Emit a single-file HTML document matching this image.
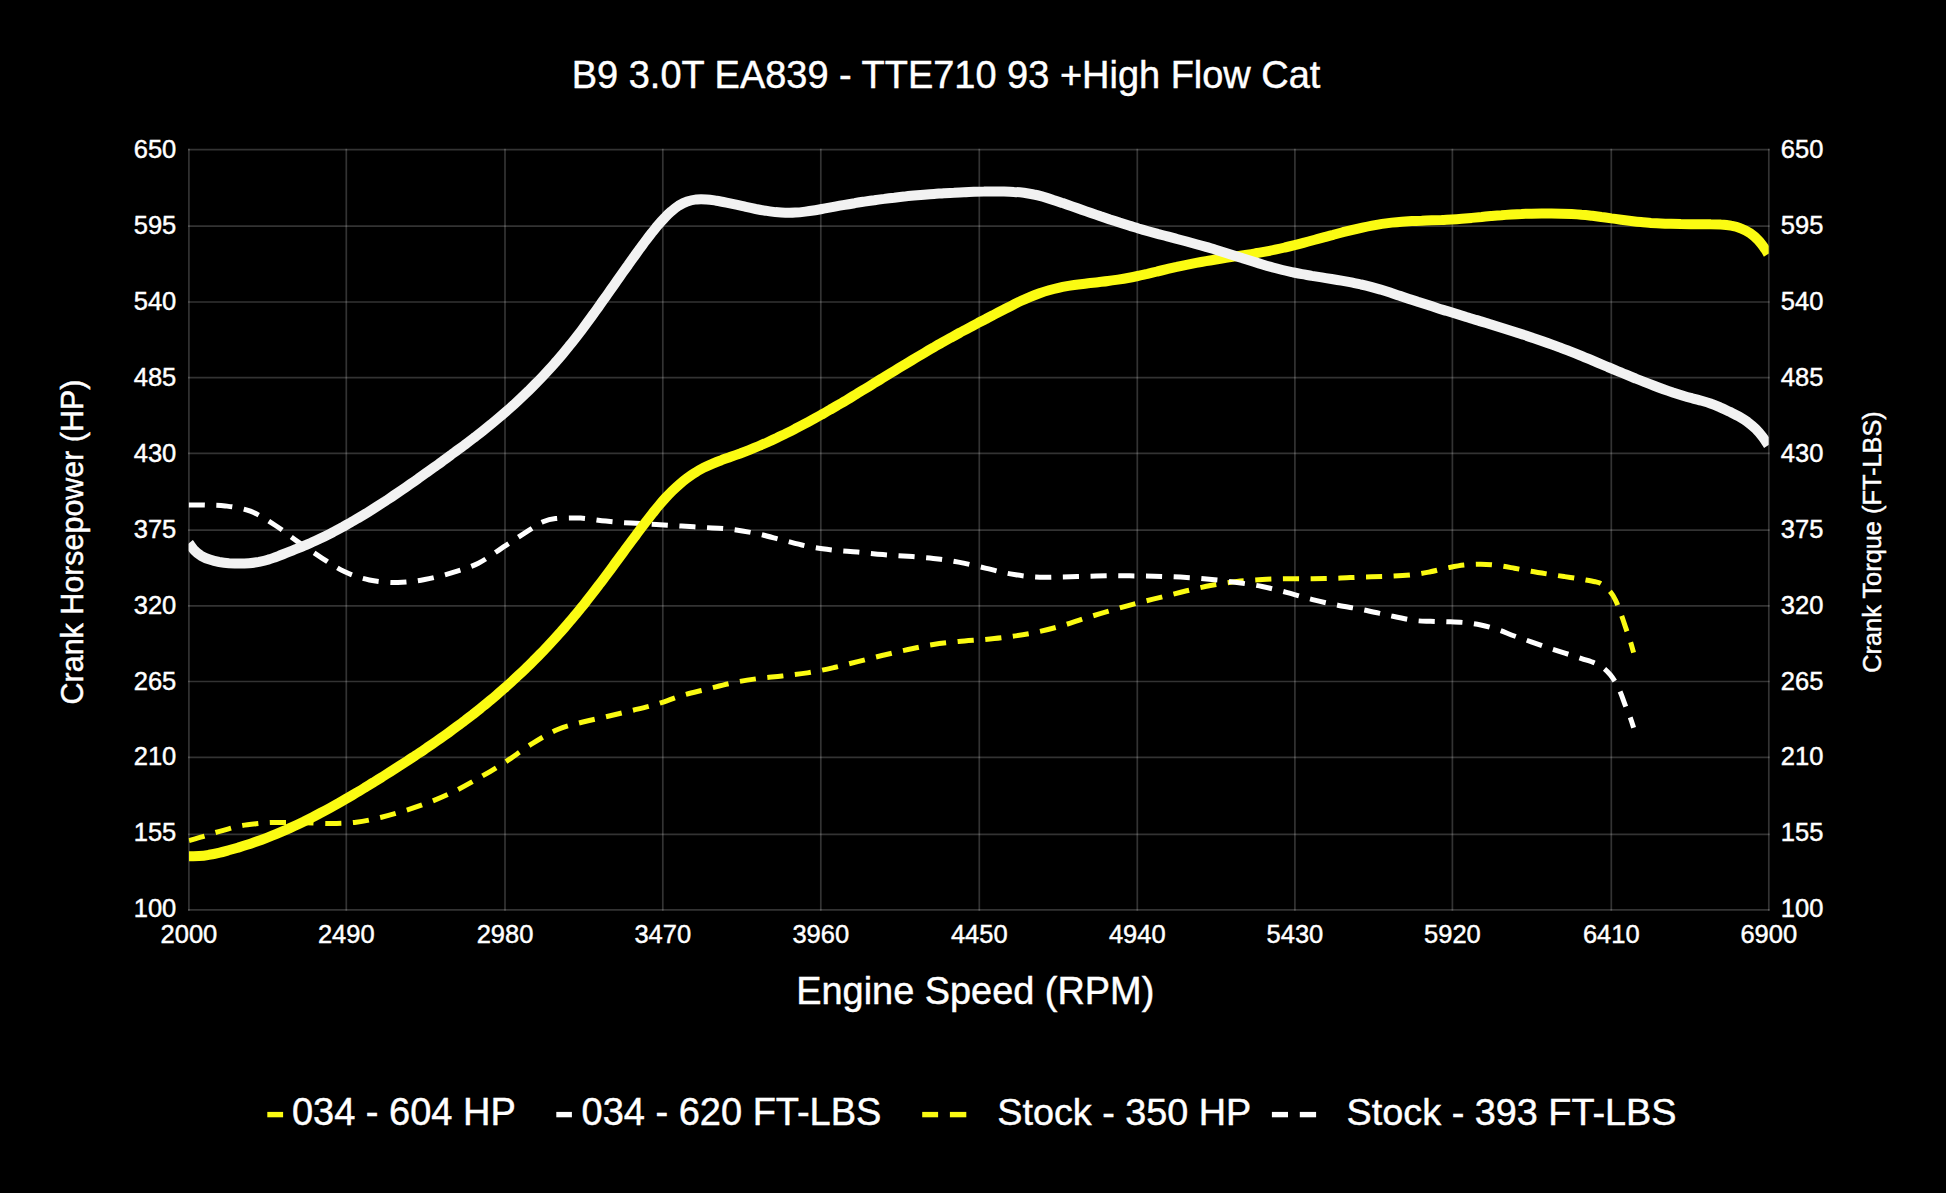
<!DOCTYPE html>
<html><head><meta charset="utf-8"><title>B9 3.0T EA839 - TTE710 93 +High Flow Cat</title>
<style>html,body{margin:0;padding:0;background:#000;}body{width:1946px;height:1193px;overflow:hidden;font-family:"Liberation Sans",Arial,sans-serif;}svg{display:block;}</style>
</head><body>
<svg width="1946" height="1193" viewBox="0 0 1946 1193">
<rect width="1946" height="1193" fill="#000"/>
<path d="M188.90,148.80V910.70M346.30,148.80V910.70M505.00,148.80V910.70M662.80,148.80V910.70M820.80,148.80V910.70M979.30,148.80V910.70M1137.30,148.80V910.70M1294.90,148.80V910.70M1452.40,148.80V910.70M1611.30,148.80V910.70M1768.80,148.80V910.70" stroke="#fff" stroke-opacity="0.2" stroke-width="1.7" fill="none"/>
<path d="M188.10,149.60H1769.60M188.10,226.10H1769.60M188.10,302.00H1769.60M188.10,377.60H1769.60M188.10,453.30H1769.60M188.10,530.20H1769.60M188.10,605.90H1769.60M188.10,681.50H1769.60M188.10,757.30H1769.60M188.10,834.30H1769.60M188.10,909.90H1769.60" stroke="#fff" stroke-opacity="0.2" stroke-width="1.7" fill="none"/>
<clipPath id="plotclip"><rect x="188.60" y="149.60" width="1580.10" height="760.30"/></clipPath>
<g clip-path="url(#plotclip)" fill="none">
<path d="M189.0,840.6C194.2,839.1 200.1,837.6 204.5,836.2C208.9,834.9 211.1,833.8 215.5,832.5C219.9,831.2 226.6,829.4 231.0,828.2C235.4,827.0 237.5,826.3 242.0,825.5C246.5,824.7 253.5,824.0 258.1,823.5C262.7,823.0 264.9,822.7 269.5,822.5C274.1,822.3 279.8,822.5 285.9,822.5C292.0,822.5 298.4,822.5 305.9,822.7C313.4,822.9 322.7,823.6 331.1,823.5C339.5,823.4 347.9,823.2 356.3,822.2C364.7,821.2 373.1,819.2 381.5,817.2C389.9,815.2 398.2,812.8 406.6,810.1C415.0,807.5 423.4,804.6 431.8,801.3C440.2,797.9 448.6,794.2 457.0,790.0C465.4,785.8 474.2,780.7 482.2,776.1C490.2,771.5 496.5,767.8 504.9,762.3C513.3,756.8 523.8,748.9 532.6,743.4C541.4,737.9 549.3,733.1 557.7,729.5C566.1,725.9 574.5,724.2 582.9,722.0C591.3,719.8 599.7,718.2 608.1,716.2C616.5,714.2 624.9,712.3 633.3,710.2C641.7,708.1 650.5,706.0 658.5,703.6C666.5,701.2 673.5,698.0 681.5,695.6C689.5,693.2 698.2,691.4 706.6,689.3C715.0,687.2 723.4,684.8 731.8,683.0C740.2,681.2 748.6,679.9 757.0,678.7C765.4,677.5 773.8,677.0 782.2,676.0C790.6,675.0 799.0,674.2 807.4,672.9C815.8,671.5 824.2,669.8 832.6,667.9C841.0,666.0 849.3,663.7 857.7,661.6C866.1,659.5 874.5,657.3 882.9,655.3C891.3,653.3 899.7,651.3 908.1,649.5C916.5,647.7 924.9,645.8 933.3,644.5C941.7,643.2 949.9,642.4 958.5,641.5C967.1,640.6 976.6,640.2 985.2,639.4C993.9,638.6 1002.0,637.8 1010.4,636.6C1018.8,635.4 1027.1,634.1 1035.5,632.4C1043.9,630.6 1052.3,628.5 1060.7,626.1C1069.1,623.7 1077.5,620.6 1085.9,618.0C1094.3,615.4 1102.7,612.8 1111.1,610.4C1119.5,608.0 1127.9,605.6 1136.3,603.4C1144.7,601.2 1153.1,599.2 1161.5,597.1C1169.9,595.0 1178.2,592.8 1186.6,590.8C1195.0,588.8 1203.4,586.8 1211.8,585.3C1220.2,583.8 1228.6,582.5 1237.0,581.5C1245.4,580.5 1253.8,580.0 1262.2,579.5C1270.6,579.0 1279.0,578.8 1287.4,578.7C1295.8,578.6 1304.2,578.8 1312.6,578.7C1321.0,578.6 1329.3,578.5 1337.7,578.2C1346.1,577.9 1354.5,577.3 1362.9,577.0C1371.3,576.7 1379.6,576.8 1388.1,576.4C1396.5,576.0 1406.5,575.4 1413.6,574.6C1420.6,573.8 1424.8,572.9 1430.4,571.8C1436.0,570.7 1441.6,569.0 1447.2,567.9C1452.8,566.8 1458.4,565.6 1464.0,565.0C1469.6,564.4 1475.2,564.1 1480.8,564.2C1486.4,564.3 1492.0,564.7 1497.6,565.4C1503.2,566.1 1508.8,567.2 1514.4,568.2C1520.0,569.2 1525.6,570.3 1531.2,571.3C1536.8,572.3 1542.4,573.2 1548.0,574.1C1553.6,575.0 1559.2,575.8 1564.8,576.6C1570.4,577.5 1576.5,578.4 1581.6,579.2C1586.6,580.1 1591.7,580.9 1595.1,581.7C1598.5,582.6 1599.5,582.6 1602.0,584.3C1604.5,586.0 1608.2,589.2 1610.4,591.9C1612.7,594.5 1614.0,597.1 1615.5,600.2C1617.0,603.3 1618.0,605.8 1619.7,610.3C1621.4,614.8 1623.7,621.8 1625.5,627.1C1627.3,632.4 1629.2,638.0 1630.6,642.2C1631.9,646.5 1632.6,649.1 1633.6,652.6" stroke="#fbfb12" stroke-width="5.0" stroke-dasharray="16.15 11.56" fill="none"/>
<path d="M188.7,504.9C194.1,504.9 198.9,504.8 205.0,505.0C211.1,505.2 217.7,504.9 225.3,505.9C232.9,506.9 242.0,507.9 250.4,511.2C258.8,514.5 267.7,520.5 275.5,525.5C283.3,530.5 289.8,536.1 297.3,541.4C304.9,546.7 313.0,552.3 320.8,557.3C328.6,562.3 336.2,567.8 344.3,571.6C352.4,575.4 360.5,578.2 369.4,580.0C378.3,581.8 388.7,582.6 397.9,582.5C407.1,582.4 415.8,581.1 424.7,579.5C433.6,577.9 442.6,575.6 451.5,572.9C460.4,570.2 469.4,567.7 478.4,563.2C487.3,558.7 496.5,551.4 505.2,545.8C513.9,540.2 524.1,533.4 530.4,529.4C536.7,525.4 538.8,523.6 543.0,521.8C547.2,520.0 549.2,519.2 555.5,518.6C561.8,518.0 572.3,517.7 580.7,518.1C589.1,518.5 597.5,520.3 605.9,521.1C614.3,521.9 622.7,522.6 631.1,523.1C639.5,523.6 647.9,523.9 656.3,524.4C664.7,524.9 673.1,525.6 681.5,526.1C689.9,526.6 698.2,527.1 706.6,527.6C715.0,528.1 723.4,528.4 731.8,529.4C740.2,530.4 748.6,531.9 757.0,533.7C765.4,535.5 773.8,537.9 782.2,540.0C790.6,542.1 799.0,544.6 807.4,546.3C815.8,548.0 824.2,549.0 832.6,550.0C841.0,551.0 849.3,551.3 857.7,552.1C866.1,552.9 874.5,553.9 882.9,554.6C891.3,555.3 899.7,555.7 908.1,556.3C916.5,556.9 924.9,557.4 933.3,558.4C941.7,559.4 949.9,560.5 958.5,562.1C967.1,563.7 976.6,566.1 985.2,568.1C993.9,570.1 1002.0,572.4 1010.4,573.9C1018.8,575.4 1027.1,576.5 1035.5,577.0C1043.9,577.5 1052.3,577.1 1060.7,577.0C1069.1,576.9 1077.5,576.6 1085.9,576.4C1094.3,576.2 1102.7,575.8 1111.1,575.7C1119.5,575.6 1127.9,575.8 1136.3,575.9C1144.7,576.0 1153.1,576.1 1161.5,576.4C1169.9,576.7 1178.2,577.0 1186.6,577.5C1195.0,578.0 1203.4,578.7 1211.8,579.5C1220.2,580.3 1228.6,581.3 1237.0,582.5C1245.4,583.7 1253.8,584.8 1262.2,586.5C1270.6,588.2 1279.0,590.4 1287.4,592.6C1295.8,594.8 1304.2,597.5 1312.6,599.6C1321.0,601.7 1329.3,603.5 1337.7,605.2C1346.1,606.9 1354.5,608.0 1362.9,609.7C1371.3,611.4 1379.6,613.4 1388.1,615.2C1396.5,617.0 1406.5,619.3 1413.6,620.3C1420.6,621.3 1424.8,621.1 1430.4,621.3C1436.0,621.5 1441.6,621.5 1447.2,621.7C1452.8,621.9 1458.4,622.0 1464.0,622.5C1469.6,623.0 1475.2,623.8 1480.8,625.0C1486.4,626.2 1492.0,627.8 1497.6,629.6C1503.2,631.4 1508.8,634.0 1514.4,636.0C1520.0,638.0 1525.6,639.8 1531.2,641.8C1536.8,643.8 1542.4,645.8 1548.0,647.7C1553.6,649.6 1559.2,651.3 1564.8,653.1C1570.4,654.9 1576.5,656.9 1581.6,658.6C1586.6,660.3 1591.4,661.6 1595.1,663.2C1598.8,664.8 1601.2,666.2 1603.7,668.2C1606.2,670.2 1608.4,672.5 1610.4,674.9C1612.4,677.3 1613.8,679.5 1615.5,682.4C1617.2,685.3 1618.8,688.6 1620.5,692.5C1622.2,696.4 1623.8,701.6 1625.5,705.9C1627.2,710.2 1629.2,714.9 1630.6,718.5C1631.9,722.1 1632.6,724.6 1633.6,727.7" stroke="#fff" stroke-width="5.0" stroke-dasharray="16.15 11.56" fill="none"/>
<path d="M189.0,856.2C192.3,856.2 195.7,856.3 199.0,856.1C202.3,855.9 205.7,855.4 209.0,854.8C212.3,854.3 215.6,853.6 218.8,852.8C222.1,852.1 225.3,851.2 228.6,850.3C231.8,849.5 235.0,848.5 238.2,847.6C241.4,846.6 244.6,845.6 247.8,844.6C251.0,843.5 254.1,842.5 257.3,841.3C260.4,840.2 263.6,839.0 266.7,837.8C269.8,836.6 272.9,835.4 276.0,834.1C279.1,832.8 282.2,831.5 285.3,830.2C288.3,828.8 291.4,827.4 294.4,826.0C297.5,824.6 300.5,823.1 303.5,821.7C306.5,820.2 309.5,818.7 312.5,817.2C315.5,815.7 318.4,814.1 321.4,812.5C324.3,811.0 327.3,809.4 330.2,807.8C333.1,806.2 336.1,804.5 339.0,802.9C341.9,801.2 344.8,799.6 347.7,797.9C350.6,796.2 353.4,794.5 356.3,792.8C359.2,791.1 362.1,789.4 364.9,787.6C367.8,785.9 370.6,784.1 373.5,782.4C376.3,780.6 379.1,778.8 382.0,777.1C384.8,775.3 387.6,773.5 390.4,771.7C393.2,769.9 396.1,768.1 398.9,766.3C401.7,764.5 404.5,762.7 407.3,760.9C410.1,759.0 412.9,757.2 415.6,755.4C418.4,753.5 421.2,751.7 424.0,749.8C426.7,747.9 429.5,746.0 432.3,744.1C435.0,742.2 437.8,740.3 440.5,738.4C443.2,736.5 446.0,734.5 448.7,732.6C451.4,730.6 454.1,728.6 456.8,726.6C459.5,724.6 462.2,722.6 464.8,720.6C467.5,718.6 470.1,716.5 472.8,714.5C475.4,712.4 478.0,710.3 480.7,708.2C483.3,706.1 485.9,704.0 488.4,701.9C491.0,699.7 493.6,697.6 496.1,695.4C498.7,693.2 501.2,691.0 503.7,688.8C506.3,686.6 508.8,684.3 511.2,682.1C513.7,679.8 516.2,677.5 518.6,675.2C521.1,672.9 523.5,670.6 525.9,668.3C528.4,665.9 530.8,663.6 533.1,661.2C535.5,658.8 537.9,656.5 540.2,654.0C542.5,651.6 544.9,649.2 547.2,646.8C549.5,644.3 551.8,641.8 554.0,639.4C556.3,636.9 558.5,634.4 560.8,631.9C563.0,629.4 565.2,626.8 567.4,624.3C569.6,621.7 571.8,619.2 573.9,616.6C576.1,614.0 578.2,611.4 580.3,608.8C582.5,606.2 584.6,603.6 586.6,600.9C588.7,598.3 590.8,595.6 592.8,593.0C594.9,590.3 596.9,587.7 598.9,585.0C601.0,582.3 603.0,579.6 605.0,577.0C607.0,574.3 609.0,571.6 611.0,568.9C613.0,566.2 614.9,563.5 616.9,560.9C618.9,558.2 620.9,555.5 622.9,552.8C624.8,550.1 626.8,547.4 628.8,544.8C630.8,542.1 632.8,539.4 634.8,536.8C636.7,534.1 638.7,531.4 640.7,528.8C642.7,526.1 644.7,523.5 646.7,520.8C648.8,518.2 650.8,515.6 652.8,513.0C654.9,510.4 656.9,507.9 659.0,505.4C661.1,502.9 663.2,500.4 665.4,498.0C667.6,495.6 669.9,493.3 672.2,491.0C674.5,488.7 676.9,486.5 679.3,484.4C681.8,482.3 684.3,480.2 686.9,478.3C689.5,476.4 692.1,474.5 694.9,472.8C697.6,471.0 700.4,469.4 703.3,467.9C706.2,466.4 709.2,465.1 712.2,463.8C715.2,462.5 718.3,461.3 721.4,460.2C724.5,459.0 727.6,458.0 730.8,456.8C733.9,455.7 737.1,454.6 740.2,453.5C743.4,452.3 746.5,451.1 749.6,449.9C752.7,448.6 755.8,447.3 758.9,446.0C762.0,444.7 765.0,443.4 768.1,442.0C771.1,440.6 774.2,439.2 777.2,437.8C780.2,436.3 783.2,434.9 786.2,433.4C789.2,431.9 792.2,430.4 795.2,428.8C798.2,427.3 801.1,425.8 804.1,424.2C807.0,422.6 810.0,421.0 812.9,419.4C815.8,417.8 818.8,416.2 821.7,414.5C824.6,412.9 827.5,411.2 830.4,409.5C833.3,407.9 836.1,406.2 839.0,404.5C841.9,402.8 844.8,401.1 847.6,399.4C850.5,397.6 853.4,395.9 856.2,394.2C859.1,392.5 861.9,390.7 864.8,389.0C867.6,387.3 870.5,385.5 873.3,383.8C876.2,382.0 879.0,380.3 881.8,378.5C884.7,376.8 887.5,375.1 890.4,373.3C893.2,371.6 896.1,369.8 898.9,368.1C901.7,366.4 904.6,364.6 907.4,362.9C910.3,361.2 913.1,359.5 916.0,357.8C918.9,356.1 921.7,354.4 924.6,352.7C927.4,351.0 930.3,349.3 933.2,347.7C936.1,346.0 939.0,344.3 941.9,342.7C944.8,341.1 947.7,339.5 950.6,337.8C953.5,336.2 956.4,334.6 959.3,333.0C962.2,331.4 965.2,329.9 968.1,328.3C971.0,326.7 974.0,325.2 976.9,323.6C979.9,322.1 982.8,320.5 985.8,319.0C988.7,317.4 991.7,315.9 994.6,314.4C997.6,312.8 1000.5,311.3 1003.5,309.8C1006.5,308.3 1009.4,306.7 1012.4,305.2C1015.4,303.7 1018.3,302.2 1021.3,300.8C1024.3,299.4 1027.3,298.1 1030.3,296.8C1033.4,295.5 1036.5,294.3 1039.6,293.2C1042.7,292.1 1045.8,291.1 1049.0,290.2C1052.2,289.3 1055.4,288.5 1058.6,287.8C1061.8,287.1 1065.1,286.5 1068.4,285.9C1071.7,285.4 1075.0,284.9 1078.3,284.5C1081.5,284.1 1084.9,283.7 1088.2,283.3C1091.5,282.9 1094.8,282.6 1098.1,282.2C1101.4,281.8 1104.7,281.5 1108.0,281.0C1111.4,280.6 1114.7,280.1 1118.0,279.6C1121.3,279.1 1124.6,278.6 1127.8,278.0C1131.1,277.4 1134.4,276.7 1137.7,276.0C1141.0,275.4 1144.2,274.6 1147.5,273.9C1150.7,273.1 1154.0,272.3 1157.2,271.5C1160.5,270.8 1163.7,270.0 1166.9,269.2C1170.2,268.4 1173.4,267.6 1176.6,266.9C1179.9,266.1 1183.1,265.4 1186.4,264.8C1189.7,264.1 1192.9,263.5 1196.2,262.8C1199.5,262.2 1202.7,261.7 1206.0,261.1C1209.3,260.5 1212.6,260.0 1215.9,259.5C1219.2,259.0 1222.5,258.5 1225.8,257.9C1229.1,257.4 1232.3,256.9 1235.6,256.4C1238.9,255.9 1242.2,255.4 1245.5,254.9C1248.8,254.4 1252.1,253.9 1255.4,253.3C1258.7,252.8 1262.0,252.2 1265.3,251.6C1268.6,251.0 1271.8,250.4 1275.1,249.7C1278.4,249.0 1281.6,248.3 1284.9,247.5C1288.2,246.8 1291.4,246.0 1294.6,245.2C1297.9,244.4 1301.1,243.5 1304.3,242.6C1307.6,241.8 1310.8,240.9 1314.0,240.0C1317.2,239.2 1320.4,238.3 1323.6,237.4C1326.9,236.5 1330.1,235.6 1333.3,234.8C1336.5,233.9 1339.7,233.1 1342.9,232.2C1346.2,231.4 1349.4,230.6 1352.6,229.8C1355.9,229.0 1359.1,228.3 1362.4,227.6C1365.6,226.9 1368.9,226.2 1372.1,225.6C1375.4,225.0 1378.7,224.4 1382.0,223.9C1385.2,223.4 1388.5,223.0 1391.8,222.6C1395.1,222.3 1398.5,222.0 1401.8,221.7C1405.1,221.5 1408.4,221.3 1411.8,221.1C1415.1,220.9 1418.4,220.8 1421.7,220.7C1425.1,220.5 1428.4,220.4 1431.7,220.3C1435.1,220.2 1438.4,220.1 1441.7,220.0C1445.1,219.8 1448.4,219.7 1451.7,219.5C1455.0,219.3 1458.4,219.0 1461.7,218.8C1465.0,218.5 1468.3,218.2 1471.7,217.9C1475.0,217.6 1478.3,217.3 1481.6,217.0C1484.9,216.6 1488.3,216.3 1491.6,216.0C1494.9,215.7 1498.2,215.4 1501.5,215.2C1504.9,214.9 1508.2,214.7 1511.5,214.5C1514.8,214.3 1518.2,214.1 1521.5,214.0C1524.8,213.8 1528.2,213.7 1531.5,213.7C1534.8,213.6 1538.1,213.5 1541.5,213.5C1544.8,213.5 1548.1,213.5 1551.5,213.5C1554.8,213.5 1558.1,213.6 1561.5,213.7C1564.8,213.8 1568.1,213.9 1571.5,214.0C1574.8,214.2 1578.1,214.4 1581.5,214.7C1584.8,214.9 1588.1,215.3 1591.4,215.7C1594.7,216.1 1598.1,216.5 1601.4,217.0C1604.7,217.4 1608.0,217.9 1611.3,218.4C1614.6,218.8 1617.9,219.3 1621.2,219.8C1624.5,220.2 1627.8,220.6 1631.1,221.0C1634.4,221.4 1637.7,221.8 1641.0,222.1C1644.3,222.4 1647.6,222.6 1651.0,222.9C1654.3,223.1 1657.6,223.3 1660.9,223.4C1664.3,223.6 1667.6,223.7 1670.9,223.8C1674.3,223.9 1677.6,224.0 1680.9,224.1C1684.3,224.1 1687.6,224.1 1690.9,224.2C1694.3,224.2 1697.6,224.2 1700.9,224.2C1704.3,224.2 1707.6,224.1 1710.9,224.2C1714.3,224.2 1717.6,224.2 1720.9,224.5C1724.3,224.7 1727.6,225.0 1730.9,225.7C1734.2,226.3 1737.5,227.1 1740.7,228.4C1743.9,229.6 1747.2,231.2 1750.1,233.2C1753.0,235.2 1755.9,237.7 1758.4,240.4C1760.9,243.0 1763.6,246.9 1765.2,249.2C1766.8,251.4 1767.1,252.4 1768.1,254.0" stroke="#fbfb12" stroke-width="10" fill="none"/>
<path d="M188.9,543.2C190.7,545.5 192.2,548.1 194.3,550.2C196.3,552.3 198.6,554.2 201.1,555.8C203.7,557.3 206.7,558.6 209.7,559.6C212.7,560.6 216.0,561.4 219.2,562.0C222.4,562.5 225.7,562.9 229.0,563.2C232.3,563.4 235.7,563.6 239.0,563.6C242.3,563.6 245.7,563.5 249.0,563.2C252.3,562.9 255.7,562.5 259.0,561.9C262.3,561.2 265.6,560.4 268.8,559.4C272.0,558.5 275.2,557.3 278.4,556.1C281.5,554.9 284.6,553.6 287.7,552.4C290.8,551.2 293.9,549.9 297.0,548.7C300.1,547.4 303.2,546.2 306.3,544.9C309.3,543.6 312.4,542.2 315.5,540.8C318.5,539.4 321.5,538.0 324.6,536.5C327.6,535.0 330.6,533.5 333.5,531.9C336.5,530.4 339.4,528.8 342.4,527.2C345.3,525.5 348.2,523.9 351.1,522.2C354.1,520.6 356.9,518.8 359.8,517.1C362.7,515.4 365.5,513.7 368.4,511.9C371.2,510.1 374.1,508.3 376.9,506.5C379.7,504.7 382.5,502.9 385.3,501.1C388.1,499.2 390.9,497.4 393.7,495.5C396.4,493.7 399.2,491.8 402.0,489.9C404.7,488.0 407.5,486.1 410.2,484.2C413.0,482.3 415.7,480.4 418.4,478.4C421.2,476.5 423.9,474.6 426.6,472.6C429.3,470.7 432.0,468.8 434.7,466.8C437.4,464.9 440.1,462.9 442.8,460.9C445.6,459.0 448.3,457.0 450.9,455.0C453.6,453.1 456.3,451.1 459.0,449.1C461.7,447.1 464.4,445.1 467.0,443.1C469.7,441.1 472.4,439.0 475.0,437.0C477.7,434.9 480.3,432.9 482.9,430.8C485.5,428.7 488.2,426.6 490.8,424.5C493.4,422.3 495.9,420.2 498.5,418.0C501.1,415.9 503.6,413.7 506.1,411.5C508.7,409.3 511.2,407.0 513.7,404.8C516.2,402.5 518.6,400.2 521.1,397.9C523.5,395.6 526.0,393.3 528.4,391.0C530.8,388.6 533.2,386.2 535.5,383.8C537.9,381.4 540.2,379.0 542.5,376.6C544.8,374.1 547.1,371.6 549.4,369.1C551.7,366.7 553.9,364.1 556.1,361.6C558.3,359.1 560.5,356.5 562.7,353.9C564.9,351.3 567.0,348.7 569.1,346.1C571.3,343.5 573.4,340.8 575.4,338.2C577.5,335.5 579.5,332.9 581.6,330.2C583.6,327.5 585.6,324.8 587.6,322.1C589.6,319.4 591.6,316.7 593.5,313.9C595.5,311.2 597.4,308.5 599.4,305.8C601.3,303.0 603.2,300.3 605.2,297.6C607.1,294.9 609.0,292.1 610.9,289.4C612.8,286.7 614.8,283.9 616.7,281.2C618.6,278.5 620.5,275.7 622.4,273.0C624.3,270.3 626.2,267.6 628.2,264.9C630.1,262.2 632.0,259.5 634.0,256.8C635.9,254.1 637.9,251.4 639.8,248.7C641.8,246.1 643.7,243.4 645.7,240.8C647.7,238.1 649.7,235.5 651.7,232.9C653.8,230.4 655.8,227.8 657.9,225.3C660.0,222.8 662.1,220.4 664.4,218.1C666.6,215.7 668.8,213.4 671.2,211.4C673.6,209.3 676.1,207.3 678.7,205.6C681.4,204.0 684.2,202.5 687.2,201.5C690.1,200.5 693.4,199.8 696.6,199.4C699.8,199.1 703.2,199.2 706.5,199.4C709.9,199.6 713.2,200.2 716.5,200.7C719.8,201.2 723.1,201.9 726.4,202.6C729.6,203.3 732.9,204.0 736.1,204.7C739.4,205.4 742.7,206.2 745.9,206.9C749.2,207.6 752.4,208.3 755.7,209.0C758.9,209.6 762.2,210.2 765.5,210.7C768.8,211.3 772.0,211.7 775.4,212.1C778.7,212.4 782.0,212.7 785.3,212.7C788.6,212.8 792.0,212.8 795.3,212.6C798.6,212.4 802.0,212.0 805.3,211.6C808.6,211.2 811.9,210.7 815.2,210.2C818.5,209.7 821.8,209.0 825.1,208.4C828.3,207.8 831.6,207.2 834.9,206.6C838.2,206.0 841.4,205.4 844.7,204.8C848.0,204.2 851.3,203.7 854.6,203.2C857.9,202.6 861.2,202.1 864.4,201.6C867.7,201.1 871.0,200.6 874.3,200.2C877.6,199.7 880.9,199.3 884.2,198.9C887.5,198.4 890.9,198.0 894.2,197.7C897.5,197.3 900.8,196.9 904.1,196.6C907.4,196.2 910.7,195.9 914.0,195.6C917.4,195.3 920.7,195.0 924.0,194.7C927.3,194.4 930.6,194.1 934.0,193.9C937.3,193.7 940.6,193.4 943.9,193.2C947.3,193.0 950.6,192.8 953.9,192.7C957.2,192.5 960.6,192.3 963.9,192.2C967.2,192.1 970.6,191.9 973.9,191.8C977.2,191.7 980.6,191.6 983.9,191.6C987.2,191.5 990.6,191.4 993.9,191.4C997.2,191.4 1000.6,191.4 1003.9,191.4C1007.2,191.5 1010.6,191.6 1013.9,191.9C1017.2,192.1 1020.5,192.4 1023.9,192.8C1027.2,193.3 1030.5,193.8 1033.8,194.5C1037.1,195.1 1040.3,196.0 1043.6,196.9C1046.8,197.8 1050.0,198.8 1053.2,199.9C1056.4,200.9 1059.5,202.0 1062.7,203.1C1065.8,204.2 1069.0,205.3 1072.1,206.4C1075.3,207.5 1078.4,208.6 1081.6,209.7C1084.7,210.8 1087.9,211.9 1091.0,213.0C1094.2,214.1 1097.3,215.2 1100.5,216.3C1103.6,217.3 1106.8,218.4 1109.9,219.5C1113.1,220.5 1116.2,221.5 1119.4,222.6C1122.6,223.6 1125.7,224.6 1128.9,225.6C1132.1,226.6 1135.3,227.5 1138.5,228.5C1141.7,229.4 1144.9,230.3 1148.1,231.2C1151.3,232.1 1154.5,233.0 1157.7,233.9C1160.9,234.7 1164.1,235.6 1167.4,236.4C1170.6,237.3 1173.8,238.1 1177.0,239.0C1180.2,239.8 1183.5,240.7 1186.7,241.5C1189.9,242.4 1193.1,243.3 1196.4,244.2C1199.6,245.1 1202.8,246.0 1206.0,246.9C1209.2,247.8 1212.4,248.8 1215.6,249.7C1218.8,250.7 1222.0,251.7 1225.2,252.7C1228.4,253.7 1231.5,254.7 1234.7,255.7C1237.9,256.8 1241.1,257.8 1244.2,258.8C1247.4,259.8 1250.6,260.8 1253.8,261.8C1256.9,262.8 1260.1,263.8 1263.3,264.7C1266.5,265.7 1269.7,266.6 1272.9,267.5C1276.1,268.4 1279.3,269.2 1282.5,270.0C1285.7,270.8 1289.0,271.5 1292.2,272.2C1295.5,272.9 1298.7,273.6 1302.0,274.2C1305.3,274.8 1308.6,275.3 1311.9,275.9C1315.1,276.4 1318.4,276.9 1321.7,277.4C1325.0,278.0 1328.3,278.5 1331.6,279.0C1334.9,279.5 1338.2,280.0 1341.5,280.6C1344.8,281.2 1348.1,281.8 1351.3,282.4C1354.6,283.1 1357.9,283.7 1361.1,284.5C1364.4,285.2 1367.7,286.0 1370.9,286.9C1374.1,287.8 1377.3,288.7 1380.6,289.6C1383.8,290.6 1387.0,291.6 1390.1,292.6C1393.3,293.6 1396.5,294.7 1399.7,295.7C1402.8,296.8 1406.0,297.9 1409.1,298.9C1412.3,300.0 1415.5,301.0 1418.6,302.1C1421.8,303.1 1425.0,304.1 1428.1,305.1C1431.3,306.2 1434.5,307.2 1437.7,308.2C1440.8,309.2 1444.0,310.1 1447.2,311.1C1450.4,312.1 1453.6,313.1 1456.8,314.1C1459.9,315.0 1463.1,316.0 1466.3,317.0C1469.5,317.9 1472.7,318.9 1475.9,319.9C1479.1,320.8 1482.3,321.8 1485.5,322.8C1488.6,323.7 1491.8,324.7 1495.0,325.7C1498.2,326.7 1501.4,327.7 1504.6,328.7C1507.8,329.7 1510.9,330.7 1514.1,331.7C1517.3,332.7 1520.5,333.7 1523.6,334.8C1526.8,335.8 1530.0,336.9 1533.1,338.0C1536.3,339.0 1539.5,340.1 1542.6,341.2C1545.8,342.3 1548.9,343.4 1552.1,344.6C1555.2,345.7 1558.3,346.9 1561.5,348.1C1564.6,349.2 1567.7,350.5 1570.8,351.7C1573.9,352.9 1577.0,354.1 1580.1,355.4C1583.2,356.7 1586.3,357.9 1589.4,359.2C1592.5,360.5 1595.5,361.8 1598.6,363.1C1601.7,364.4 1604.8,365.7 1607.8,367.0C1610.9,368.3 1614.0,369.6 1617.0,370.9C1620.1,372.1 1623.2,373.4 1626.3,374.7C1629.3,376.0 1632.4,377.3 1635.5,378.5C1638.6,379.8 1641.7,381.0 1644.8,382.2C1647.8,383.4 1650.9,384.6 1654.1,385.8C1657.2,387.0 1660.3,388.1 1663.4,389.2C1666.5,390.3 1669.7,391.4 1672.8,392.5C1676.0,393.5 1679.2,394.5 1682.3,395.5C1685.5,396.5 1688.7,397.4 1691.9,398.2C1695.1,399.1 1698.3,399.9 1701.6,400.8C1704.8,401.7 1708.0,402.6 1711.2,403.8C1714.4,404.9 1717.5,406.3 1720.6,407.6C1723.7,408.9 1726.7,410.4 1729.8,411.8C1732.8,413.3 1735.8,414.7 1738.8,416.4C1741.7,418.1 1744.7,419.9 1747.5,421.9C1750.3,424.0 1753.1,426.3 1755.6,428.8C1758.1,431.3 1760.6,434.3 1762.7,437.0C1764.8,439.7 1766.4,442.5 1768.2,445.2" stroke="#f2f2f2" stroke-width="10" fill="none"/>
</g>
<g fill="#fff" stroke="#fff" stroke-width="0.45" font-family="'Liberation Sans', Arial, sans-serif">
<text x="571.8" y="88.3" font-size="38.5" textLength="748.6" lengthAdjust="spacingAndGlyphs">B9 3.0T EA839 - TTE710 93 +High Flow Cat</text>
<text x="176.3" y="158.0" font-size="25.5" text-anchor="end">650</text>
<text x="1780.8" y="158.0" font-size="25.5">650</text>
<text x="176.3" y="233.9" font-size="25.5" text-anchor="end">595</text>
<text x="1780.8" y="233.9" font-size="25.5">595</text>
<text x="176.3" y="309.9" font-size="25.5" text-anchor="end">540</text>
<text x="1780.8" y="309.9" font-size="25.5">540</text>
<text x="176.3" y="385.8" font-size="25.5" text-anchor="end">485</text>
<text x="1780.8" y="385.8" font-size="25.5">485</text>
<text x="176.3" y="461.7" font-size="25.5" text-anchor="end">430</text>
<text x="1780.8" y="461.7" font-size="25.5">430</text>
<text x="176.3" y="537.7" font-size="25.5" text-anchor="end">375</text>
<text x="1780.8" y="537.7" font-size="25.5">375</text>
<text x="176.3" y="613.6" font-size="25.5" text-anchor="end">320</text>
<text x="1780.8" y="613.6" font-size="25.5">320</text>
<text x="176.3" y="689.5" font-size="25.5" text-anchor="end">265</text>
<text x="1780.8" y="689.5" font-size="25.5">265</text>
<text x="176.3" y="765.4" font-size="25.5" text-anchor="end">210</text>
<text x="1780.8" y="765.4" font-size="25.5">210</text>
<text x="176.3" y="841.4" font-size="25.5" text-anchor="end">155</text>
<text x="1780.8" y="841.4" font-size="25.5">155</text>
<text x="176.3" y="917.3" font-size="25.5" text-anchor="end">100</text>
<text x="1780.8" y="917.3" font-size="25.5">100</text>
<text x="188.9" y="942.6" font-size="25.5" text-anchor="middle">2000</text>
<text x="346.3" y="942.6" font-size="25.5" text-anchor="middle">2490</text>
<text x="505.0" y="942.6" font-size="25.5" text-anchor="middle">2980</text>
<text x="662.8" y="942.6" font-size="25.5" text-anchor="middle">3470</text>
<text x="820.8" y="942.6" font-size="25.5" text-anchor="middle">3960</text>
<text x="979.3" y="942.6" font-size="25.5" text-anchor="middle">4450</text>
<text x="1137.3" y="942.6" font-size="25.5" text-anchor="middle">4940</text>
<text x="1294.9" y="942.6" font-size="25.5" text-anchor="middle">5430</text>
<text x="1452.4" y="942.6" font-size="25.5" text-anchor="middle">5920</text>
<text x="1611.3" y="942.6" font-size="25.5" text-anchor="middle">6410</text>
<text x="1768.8" y="942.6" font-size="25.5" text-anchor="middle">6900</text>
<text x="975.3" y="1003.9" font-size="37.9" text-anchor="middle">Engine Speed (RPM)</text>
<text transform="translate(82.7,542) rotate(-90)" font-size="30.45" text-anchor="middle">Crank Horsepower (HP)</text>
<text transform="translate(1881.2,542) rotate(-90)" font-size="25.35" text-anchor="middle">Crank Torque (FT-LBS)</text>
<text x="291.9" y="1125.3" font-size="38">034 - 604 HP</text>
<text x="581.5" y="1125.3" font-size="38">034 - 620 FT-LBS</text>
<text x="997.3" y="1125.3" font-size="37.78">Stock - 350 HP</text>
<text x="1346.6" y="1125.3" font-size="37.82">Stock - 393 FT-LBS</text>
</g>
<rect x="267.3" y="1111.9" width="15.8" height="5.4" fill="#fbfb12"/>
<rect x="556.3" y="1111.9" width="15.6" height="5.4" fill="#fff"/>
<rect x="922.2" y="1111.9" width="15.9" height="5.4" fill="#fbfb12"/>
<rect x="949.9" y="1111.9" width="16.4" height="5.4" fill="#fbfb12"/>
<rect x="1271.9" y="1111.9" width="16.1" height="5.4" fill="#fff"/>
<rect x="1299.8" y="1111.9" width="16.3" height="5.4" fill="#fff"/>
</svg>
</body></html>
